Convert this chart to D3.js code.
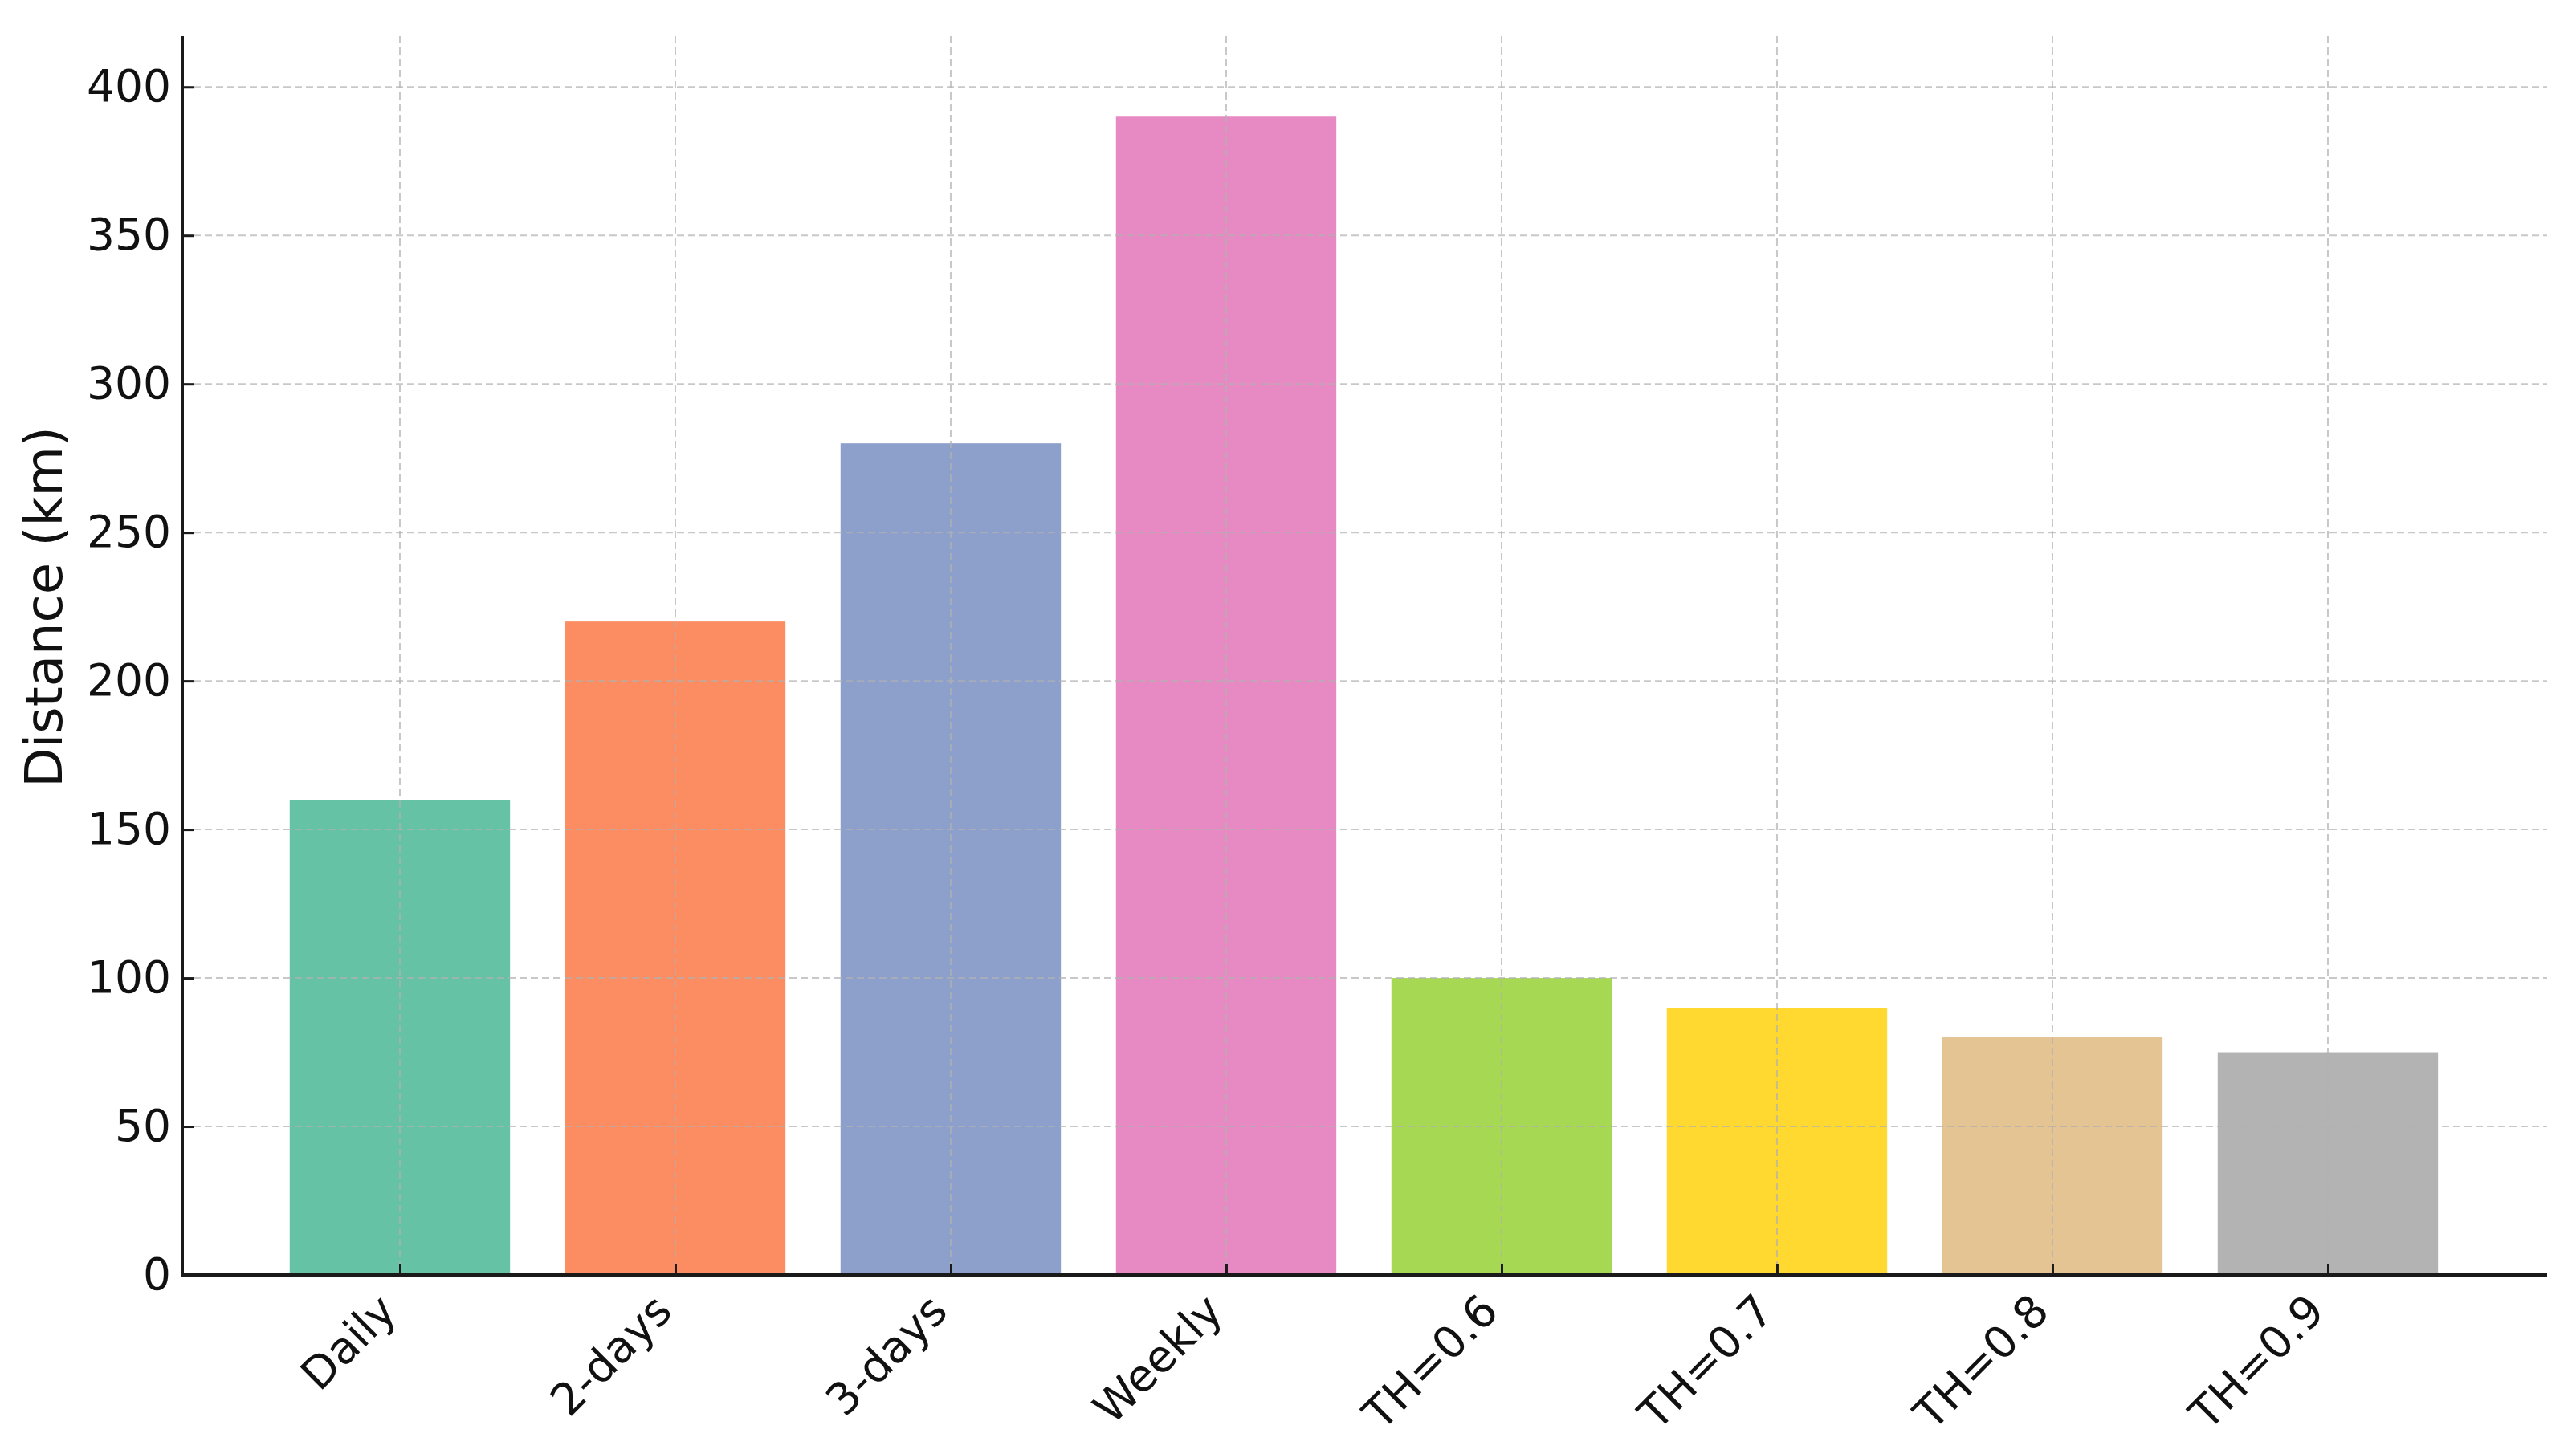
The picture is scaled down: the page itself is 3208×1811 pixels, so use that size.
<!DOCTYPE html>
<html>
<head>
<meta charset="utf-8">
<script src="https://cdn.jsdelivr.net/npm/d3@7"></script>
<style>
  html, body { margin: 0; padding: 0; background: #fff; }
  svg { display: block; }
  text { font-family: "DejaVu Sans", sans-serif; fill: #111; }
</style>
</head>
<body>
<script>
const categories = ["Daily", "2-days", "3-days", "Weekly", "TH=0.6", "TH=0.7", "TH=0.8", "TH=0.9"];
const distances = [160, 220, 280, 390, 100, 90, 80, 75];
const colors = ["#66c2a5", "#fc8d62", "#8da0cb", "#e78ac3", "#a6d854", "#ffd92f", "#e5c494", "#b3b3b3"];
const yTicks = [0, 50, 100, 150, 200, 250, 300, 350, 400];
const yLabel = "Distance (km)";

const W = 3208, H = 1811;
const mLeft = 227, mRight = 3172, mTop = 45, mBottom = 1588;

const svg = d3.select("body").append("svg").attr("width", W).attr("height", H);

const x = d3.scaleLinear().domain([-0.79, 7.796]).range([mLeft, mRight]);
const y = d3.scaleLinear().domain([0, 417.1]).range([mBottom, mTop]);
const barW = x(0.8) - x(0);

// bars
svg.append("g").selectAll("rect").data(distances).join("rect")
  .attr("x", (d, i) => x(i) - barW / 2)
  .attr("width", barW)
  .attr("y", d => y(d))
  .attr("height", d => y(0) - y(d))
  .attr("fill", (d, i) => colors[i]);

// grid (drawn above bars)
const grid = svg.append("g").attr("stroke", "#b0b0b0").attr("stroke-opacity", 0.7)
  .attr("stroke-width", 2).attr("stroke-dasharray", "9,5");
grid.selectAll("line.h").data(yTicks).join("line").attr("class", "h")
  .attr("x1", mLeft).attr("x2", mRight).attr("y1", d => y(d)).attr("y2", d => y(d));
grid.selectAll("line.v").data(categories).join("line").attr("class", "v")
  .attr("x1", (d, i) => x(i)).attr("x2", (d, i) => x(i)).attr("y1", mTop).attr("y2", mBottom);

// y axis
const yAxis = d3.axisLeft(y).tickValues(yTicks).tickSizeInner(-14).tickSizeOuter(0).tickPadding(17);
const gy = svg.append("g").attr("transform", `translate(${mLeft},0)`).call(yAxis);
gy.select(".domain").attr("stroke", "#1a1a1a").attr("stroke-width", 4).attr("d", `M0,${mTop}V${mBottom + 2}`);
gy.selectAll(".tick line").attr("stroke", "#1a1a1a").attr("stroke-width", 3);
gy.selectAll(".tick text").attr("font-size", 55).attr("font-family", "DejaVu Sans").attr("fill", "#111")
  .attr("x", -14);

// x axis
const xAxis = d3.axisBottom(x).tickValues(d3.range(categories.length))
  .tickFormat(i => categories[i]).tickSizeInner(-14).tickSizeOuter(0).tickPadding(0);
const gx = svg.append("g").attr("transform", `translate(0,${mBottom})`).call(xAxis);
gx.select(".domain").attr("stroke", "#1a1a1a").attr("stroke-width", 4).attr("d", `M${mLeft - 2},0H${mRight}`);
gx.selectAll(".tick line").attr("stroke", "#1a1a1a").attr("stroke-width", 3);
gx.selectAll(".tick text")
  .attr("font-size", 55).attr("font-family", "DejaVu Sans").attr("fill", "#111")
  .attr("text-anchor", "end")
  .attr("y", 0).attr("dy", "0.72em")
  .attr("transform", "translate(-30,20) rotate(-45)");

// y label
svg.append("text")
  .attr("transform", `translate(77,756) rotate(-90)`)
  .attr("text-anchor", "middle")
  .attr("font-size", 64)
  .text(yLabel);
</script>
</body>
</html>
